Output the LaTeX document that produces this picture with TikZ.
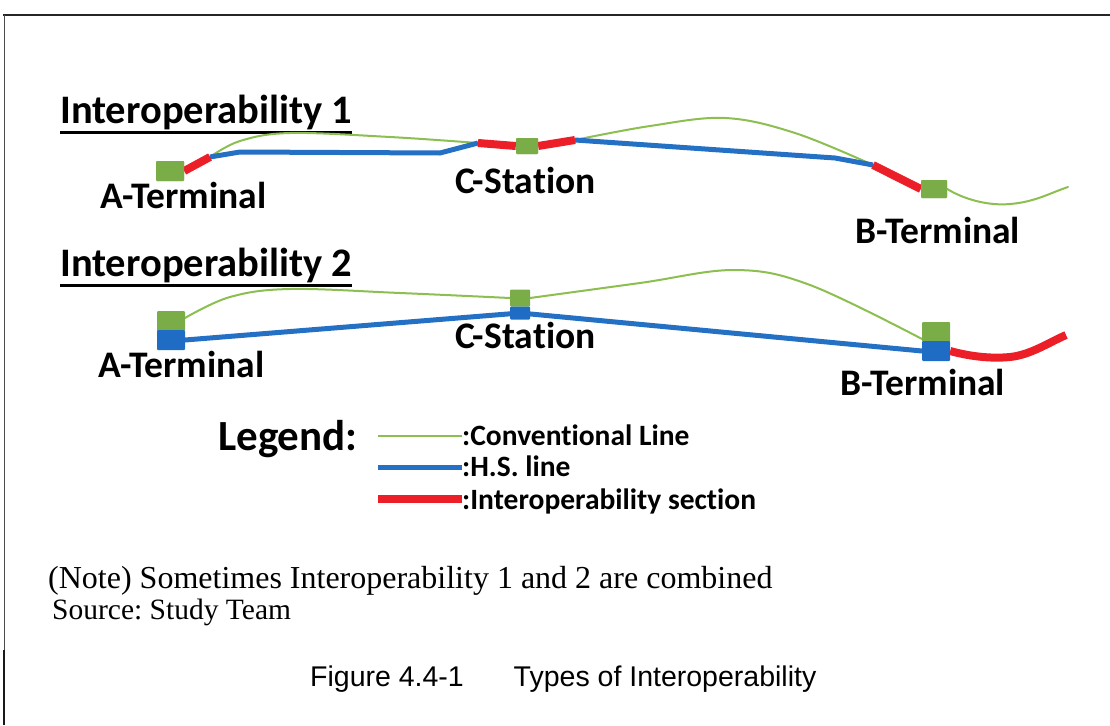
\documentclass[tikz,border=0pt]{standalone}
\usepackage{fontspec}
\setmainfont{Liberation Serif}
\newfontfamily\calib[Ligatures=NoCommon]{Carlito}
\newfontfamily\arialf{Liberation Sans}
\definecolor{convgreen}{RGB}{140,190,80}
\definecolor{hsblue}{RGB}{36,112,196}
\definecolor{iored}{RGB}{236,30,40}
\definecolor{sqgreen}{RGB}{122,172,72}
\definecolor{sqblue}{RGB}{30,108,196}
\tikzset{
  conv/.style={draw=convgreen, line width=2pt, line cap=round},
  hs/.style={draw=hsblue, line width=5pt, line join=round},
  iosec/.style={draw=iored, line width=8pt},
  gsq/.style={fill=sqgreen, draw=none, minimum width=28pt, minimum height=20pt, inner sep=0pt, rounded corners=1pt},
  bsq/.style={fill=sqblue, draw=none, minimum width=28pt, minimum height=20pt, inner sep=0pt, rounded corners=1pt},
  heading/.style={font=\calib\bfseries\fontsize{40.5}{44}\selectfont, anchor=base west, inner sep=0pt},
  legh/.style={font=\calib\bfseries\fontsize{43}{46}\selectfont, anchor=base west, inner sep=0pt},
  lbl/.style={font=\calib\bfseries\fontsize{37.5}{40}\selectfont, anchor=base west, inner sep=0pt},
  legtxt/.style={font=\calib\bfseries\fontsize{29.5}{32}\selectfont, anchor=base west, inner sep=0pt},
  note/.style={font=\fontsize{32}{34}\selectfont, anchor=base west, inner sep=0pt},
  src/.style={font=\fontsize{29.5}{34}\selectfont, anchor=base west, inner sep=0pt},
  capt/.style={font=\arialf\fontsize{28.5}{32}\selectfont, anchor=base west, inner sep=0pt},
}
\frenchspacing
\begin{document}
\begin{tikzpicture}[x=1pt,y=-1pt]
\useasboundingbox (0,0) rectangle (1110,725);
% frame
\draw[line width=2.5pt, black!85] (3,15) -- (1110,15);
\draw[line width=1pt, black!70] (4,15) -- (4,650);
\draw[line width=2pt, black!90] (4,650) -- (4,725);

% ---------- Interoperability 1 ----------
\node[heading] (h1) at (60,123) {Interoperability 1};
\draw[line width=2.5pt] (h1.south west) ++(0,3) coordinate (u1a) -- (h1.south east |- u1a);

\node[gsq] (a1) at (170,171) {};
\node[gsq, minimum width=22pt, minimum height=16pt] (c1) at (527,146) {};
\node[gsq, minimum width=26pt, minimum height=18pt] (b1) at (934,189) {};

\coordinate (a1r) at (210,157);
\coordinate (c1l) at (478,143);
\coordinate (c1r) at (575,140);
\coordinate (b1l) at (873,165);
\coordinate (end1) at (1068,187);

% conventional line
\draw[conv] plot[smooth, tension=0.6] coordinates {(a1r) (240,141) (290,133) (390,137) (c1l)};
\draw[conv] plot[smooth, tension=0.6] coordinates {(c1r) (650,126) (725,118) (795,133) (b1l)};
\draw[conv] (b1.east) .. controls (965,200) and (990,206) .. (1010,204) .. controls (1035,202) and (1050,193) .. (end1);
% HS line
\draw[hs] (a1r) -- (240,152) -- (440,153) -- (c1l);
\draw[hs] (c1r) -- (835,158) -- (b1l);
% interoperability sections
\draw[iosec] (a1.east) -- (a1r);
\draw[iosec] (c1l) -- (c1.west);
\draw[iosec] (c1.east) -- (c1r);
\draw[iosec] (b1l) -- (b1.west);
\node[gsq, minimum width=22pt, minimum height=16pt] at (c1) {};
\node[gsq] at (a1) {};
\node[gsq, minimum width=26pt, minimum height=18pt] at (b1) {};

\node[lbl] (la1) at (100,208) {A-Terminal};
\node[lbl] (lc1) at (455,193) {C-Station};
\node[lbl] (lb1) at (855,243) {B-Terminal};

% ---------- Interoperability 2 ----------
\node[heading] (h2) at (60,276) {Interoperability 2};
\draw[line width=2.5pt] (h2.south west) ++(0,3) coordinate (u2a) -- (h2.south east |- u2a);

\coordinate (a2g) at (185,318);
\coordinate (a2b) at (185,340);
\coordinate (c2g1) at (510,298);
\coordinate (c2g2) at (530,298);
\coordinate (c2b) at (520,313);
\coordinate (b2g) at (922,339);
\coordinate (b2b) at (922,351);

\draw[conv] plot[smooth, tension=0.6] coordinates {(a2g) (230,297) (290,289) (400,293) (c2g1)};
\draw[conv] plot[smooth, tension=0.6] coordinates {(c2g2) (640,283) (735,270) (810,285) (b2g)};
\draw[hs] (a2b) -- (c2b) -- (b2b);

\node[gsq] (a2top) at (171,321) {};
\node[bsq] (a2bot) at (171,340) {};
\node[gsq, minimum width=20pt, minimum height=17pt] (c2top) at (520,298) {};
\node[bsq, minimum width=20pt, minimum height=13pt] (c2bot) at (520,313) {};
\node[gsq] (b2top) at (936,332) {};
\node[bsq] (b2bot) at (936,351) {};

\coordinate (end2) at (1066,335);
\draw[iosec] (b2bot.east) .. controls (968,356) and (990,359) .. (1010,357) .. controls (1030,355) and (1048,343) .. (end2);

\node[lbl] (la2) at (98,377) {A-Terminal};
\node[lbl] (lc2) at (455,348) {C-Station};
\node[lbl] (lb2) at (840,395) {B-Terminal};

% ---------- Legend ----------
\node[legh] (leg) at (218,450) {Legend:};
\coordinate (lg1) at (378,436);
\coordinate (lg2) at (378,467);
\coordinate (lg3) at (378,499);
\node[legtxt] (t1) at (462,445) {:Conventional Line};
\node[legtxt] (t2) at (462,476) {:H.S. line};
\node[legtxt] (t3) at (462,509) {:Interoperability section};
\draw[conv, line cap=butt] (lg1) -- (t1.west |- lg1);
\draw[hs] (lg2) -- (t2.west |- lg2);
\draw[iosec] (lg3) -- (t3.west |- lg3);

% ---------- notes ----------
\node[note] (n1) at (48,588) {(Note) Sometimes Interoperability 1 and 2 are combined};
\node[src] (n2) at (52,619) {Source: Study Team};
\node[capt] (cap) at (310,686) {Figure 4.4-1\hspace{1.75em}Types of Interoperability};
\end{tikzpicture}
\end{document}
